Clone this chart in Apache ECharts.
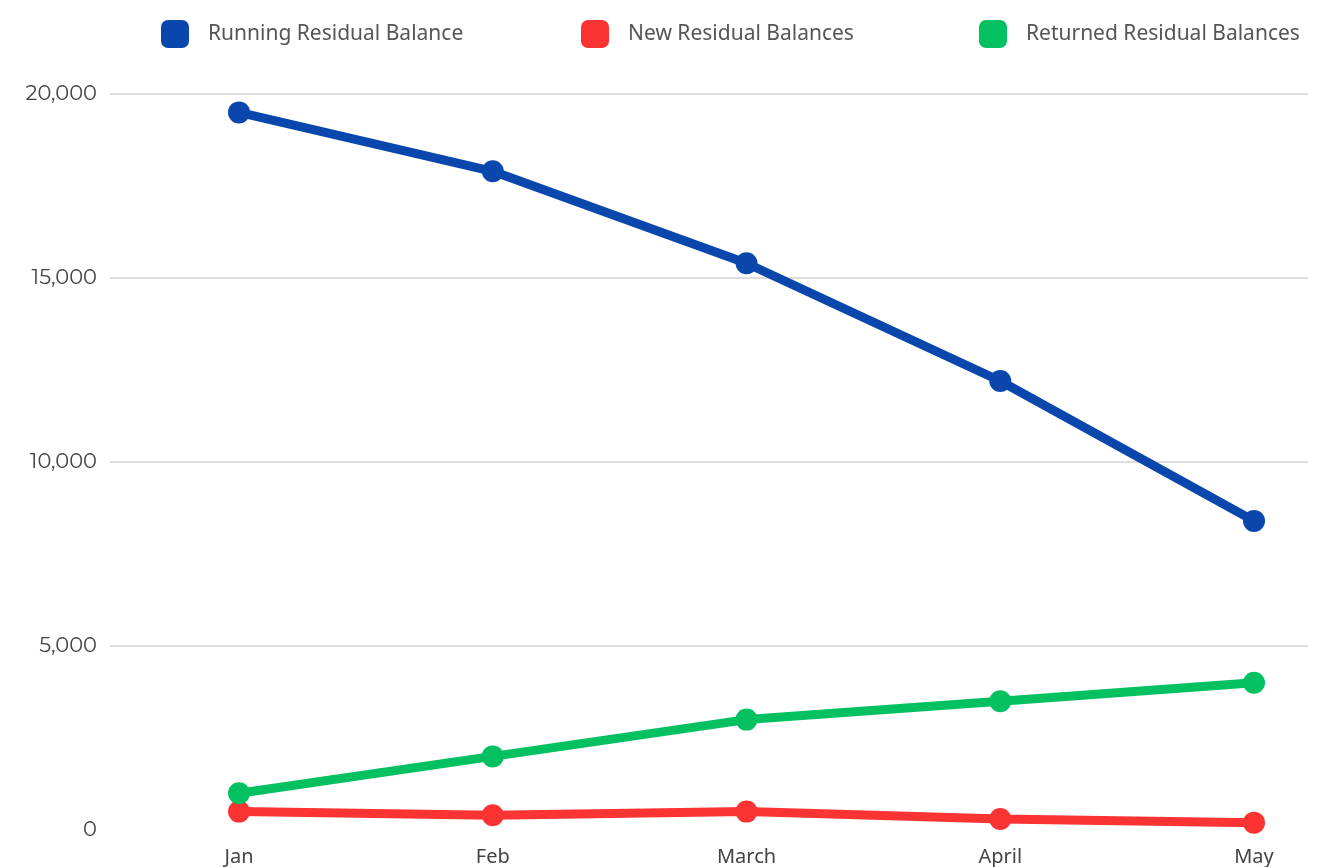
<!DOCTYPE html>
<html>
<head>
<meta charset="utf-8">
<style>
  html, body { margin: 0; padding: 0; background: #fff; }
  #chart { width: 1322px; height: 867px; }
</style>
<script src="https://cdn.jsdelivr.net/npm/echarts@6/dist/echarts.min.js"></script>
</head>
<body>
<div id="chart"></div>
<script>
var months = ['Jan', 'Feb', 'March', 'April', 'May']
var runningBalance = [19500, 17900, 15400, 12200, 8400]
var newBalances = [500, 400, 500, 300, 200]
var returnedBalances = [1000, 2000, 3000, 3500, 4000]
var yTicks = [0, 5000, 10000, 15000, 20000]

var blue = '#0a47ad'
var red = '#fb3333'
var green = '#03c160'
var font = 'Noto Sans'

var chart = echarts.init(document.getElementById('chart'))

function legendAt (name, left) {
  return {
    data: [name],
    left: left,
    top: 15,
    icon: 'roundRect',
    itemWidth: 28,
    itemHeight: 28,
    itemGap: 0,
    textStyle: { color: '#555', fontSize: 21, fontFamily: font, padding: [0, 0, 0, 14] }
  }
}

chart.setOption({
  animation: false,
  legend: [
    legendAt('Running Residual Balance', 156),
    legendAt('New Residual Balances', 576),
    legendAt('Returned Residual Balances', 974)
  ],
  grid: [
    // background grid: y labels + split lines
    { left: 110, right: 14, top: 94, bottom: 37 },
    // data grid: first/last month sit inside the lines
    { left: 239, right: 68, top: 94, bottom: 37 }
  ],
  xAxis: [
    { gridIndex: 0, type: 'category', data: months, show: false },
    {
      gridIndex: 1,
      type: 'category',
      data: months,
      boundaryGap: false,
      axisLine: { show: false },
      axisTick: { show: false },
      axisLabel: { color: '#444', fontSize: 20, fontFamily: font, margin: 17 }
    }
  ],
  yAxis: [
    {
      gridIndex: 0,
      type: 'value',
      min: 0,
      max: 20000,
      interval: 5000,
      axisLine: { show: false },
      axisTick: { show: false },
      axisLabel: {
        color: '#444',
        fontSize: 21,
        fontFamily: 'Montserrat, Lato, ' + font,
        margin: 13,
        formatter: function (v) { return yTicks.indexOf(v) >= 0 ? v.toLocaleString('en-US') : '' }
      },
      splitLine: { showMinLine: false, lineStyle: { color: '#d3d3d3', width: 1.5 } }
    },
    { gridIndex: 1, type: 'value', min: 0, max: 20000, interval: 5000, show: false, splitLine: { show: false } }
  ],
  series: [
    {
      name: 'Running Residual Balance',
      type: 'line',
      xAxisIndex: 1,
      yAxisIndex: 1,
      data: runningBalance,
      symbol: 'circle',
      symbolSize: 22,
      itemStyle: { color: blue },
      lineStyle: { color: blue, width: 9 }
    },
    {
      name: 'New Residual Balances',
      type: 'line',
      xAxisIndex: 1,
      yAxisIndex: 1,
      data: newBalances,
      symbol: 'circle',
      symbolSize: 22,
      itemStyle: { color: red },
      lineStyle: { color: red, width: 9 }
    },
    {
      name: 'Returned Residual Balances',
      type: 'line',
      xAxisIndex: 1,
      yAxisIndex: 1,
      data: returnedBalances,
      symbol: 'circle',
      symbolSize: 22,
      itemStyle: { color: green },
      lineStyle: { color: green, width: 9 }
    }
  ]
})
</script>
</body>
</html>
